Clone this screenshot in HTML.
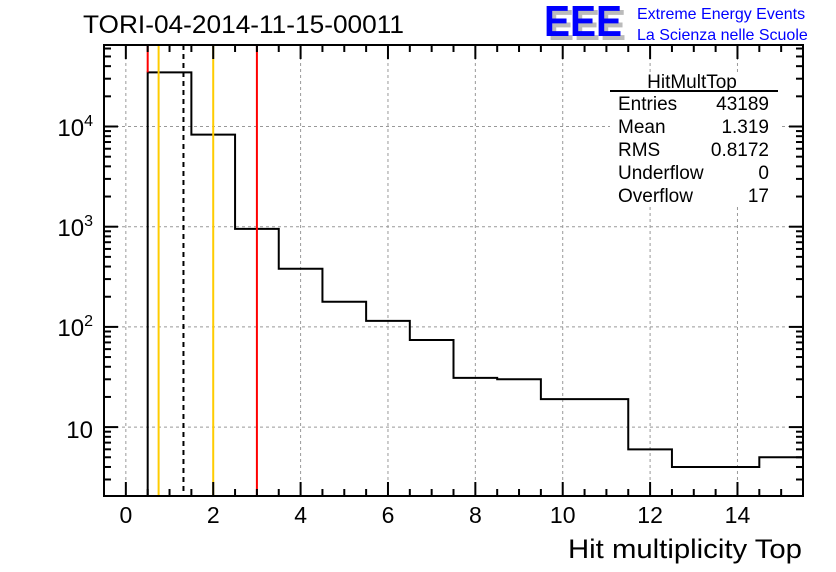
<!DOCTYPE html>
<html><head><meta charset="utf-8"><style>
html,body{margin:0;padding:0;background:#fff;width:836px;height:572px;overflow:hidden}
text{font-family:"Liberation Sans",sans-serif}
</style></head><body>
<svg id="s" width="836" height="572" xmlns="http://www.w3.org/2000/svg">
<rect width="836" height="572" fill="#fff"/>
<g id="grid" stroke="#999" stroke-width="1" stroke-dasharray="3,3"></g>
<g id="hist"></g>
<g id="ticks" stroke="#000" stroke-width="2"></g>
<rect x="104" y="45" width="699" height="451" fill="none" stroke="#000" stroke-width="2"/>
<text x="83" y="33" font-size="25" textLength="321" lengthAdjust="spacingAndGlyphs">TORI-04-2014-11-15-00011</text>
<text x="568" y="558" font-size="27" textLength="234" lengthAdjust="spacingAndGlyphs">Hit multiplicity Top</text>
<g font-size="23" text-anchor="middle" id="xl"></g>
<g font-size="24" text-anchor="end">
<text x="93" y="136">10<tspan font-size="16" dy="-10">4</tspan></text>
<text x="93" y="236">10<tspan font-size="16" dy="-10">3</tspan></text>
<text x="93" y="336">10<tspan font-size="16" dy="-10">2</tspan></text>
<text x="93" y="438">10</text>
</g>
<rect x="610" y="72" width="170" height="135" fill="#fff"/>
<text x="692" y="88" font-size="19" text-anchor="middle">HitMultTop</text>
<line x1="610" y1="91" x2="778" y2="91" stroke="#000" stroke-width="2"/>
<g font-size="19">
<text x="618" y="110">Entries</text><text x="769" y="110" text-anchor="end">43189</text>
<text x="618" y="133">Mean</text><text x="769" y="133" text-anchor="end">1.319</text>
<text x="618" y="156">RMS</text><text x="769" y="156" text-anchor="end">0.8172</text>
<text x="618" y="179">Underflow</text><text x="769" y="179" text-anchor="end">0</text>
<text x="618" y="202">Overflow</text><text x="769" y="202" text-anchor="end">17</text>
</g>
<text x="548" y="40" font-size="44" font-weight="bold" fill="#bbb" textLength="78" lengthAdjust="spacingAndGlyphs">EEE</text>
<text x="544" y="36" font-size="44" font-weight="bold" fill="#00f" textLength="78" lengthAdjust="spacingAndGlyphs">EEE</text>
<text x="637" y="19" font-size="16" fill="#00f">Extreme Energy Events</text>
<text x="637" y="40" font-size="16" fill="#00f">La Scienza nelle Scuole</text>
</svg>
<script>
var NS="http://www.w3.org/2000/svg";
function X(v){return 104+(v+0.5)*699/16;}
function Y(v){return 126.5-100.2*(Math.log10(v)-4);}
function el(p,t,a){var e=document.createElementNS(NS,t);for(var k in a)e.setAttribute(k,a[k]);document.getElementById(p).appendChild(e);return e;}
for(var i=0;i<=14;i+=2)el("grid","line",{x1:X(i),y1:45,x2:X(i),y2:496});
[10,100,1000,10000].forEach(function(v){el("grid","line",{x1:104,y1:Y(v),x2:803,y2:Y(v)});});
for(var i=-0.5;i<=15.5;i+=0.5){var maj=(i%2===0);var L=maj?14:7;var x=X(i);
el("ticks","line",{x1:x,y1:496,x2:x,y2:496-L});el("ticks","line",{x1:x,y1:45,x2:x,y2:45+L});}
for(var i=0;i<=14;i+=2){var t=el("xl","text",{x:X(i),y:523});t.textContent=i;}
for(var d=0;d<=4;d++){for(var m=1;m<=9;m++){var v=m*Math.pow(10,d);var y=Y(v);if(y<45||y>496)continue;var L=(m===1)?14:7;
el("ticks","line",{x1:104,y1:y,x2:104+L,y2:y});el("ticks","line",{x1:803,y1:y,x2:803-L,y2:y});}}
var vals=[34700,8300,950,380,178,115,74,31,30,19,19,6,4,4,5];
var d="M"+X(0.5)+" 496";
for(var b=0;b<vals.length;b++){var x0=X(0.5+b),x1=X(1.5+b),y=Y(vals[b]);d+=" L"+x0+" "+y+" L"+x1+" "+y;}
el("hist","path",{d:d,fill:"none",stroke:"#000","stroke-width":2});
el("hist","line",{x1:X(0.5),y1:45,x2:X(0.5),y2:Y(34700),stroke:"#f00","stroke-width":2});
el("hist","line",{x1:X(0.75),y1:45,x2:X(0.75),y2:496,stroke:"#fc0","stroke-width":2});
el("hist","line",{x1:X(2),y1:45,x2:X(2),y2:496,stroke:"#fc0","stroke-width":2});
el("hist","line",{x1:X(3),y1:45,x2:X(3),y2:496,stroke:"#f00","stroke-width":2});
el("hist","line",{x1:X(1.319),y1:45,x2:X(1.319),y2:496,stroke:"#000","stroke-width":2,"stroke-dasharray":"5,4"});
</script>
</body></html>
